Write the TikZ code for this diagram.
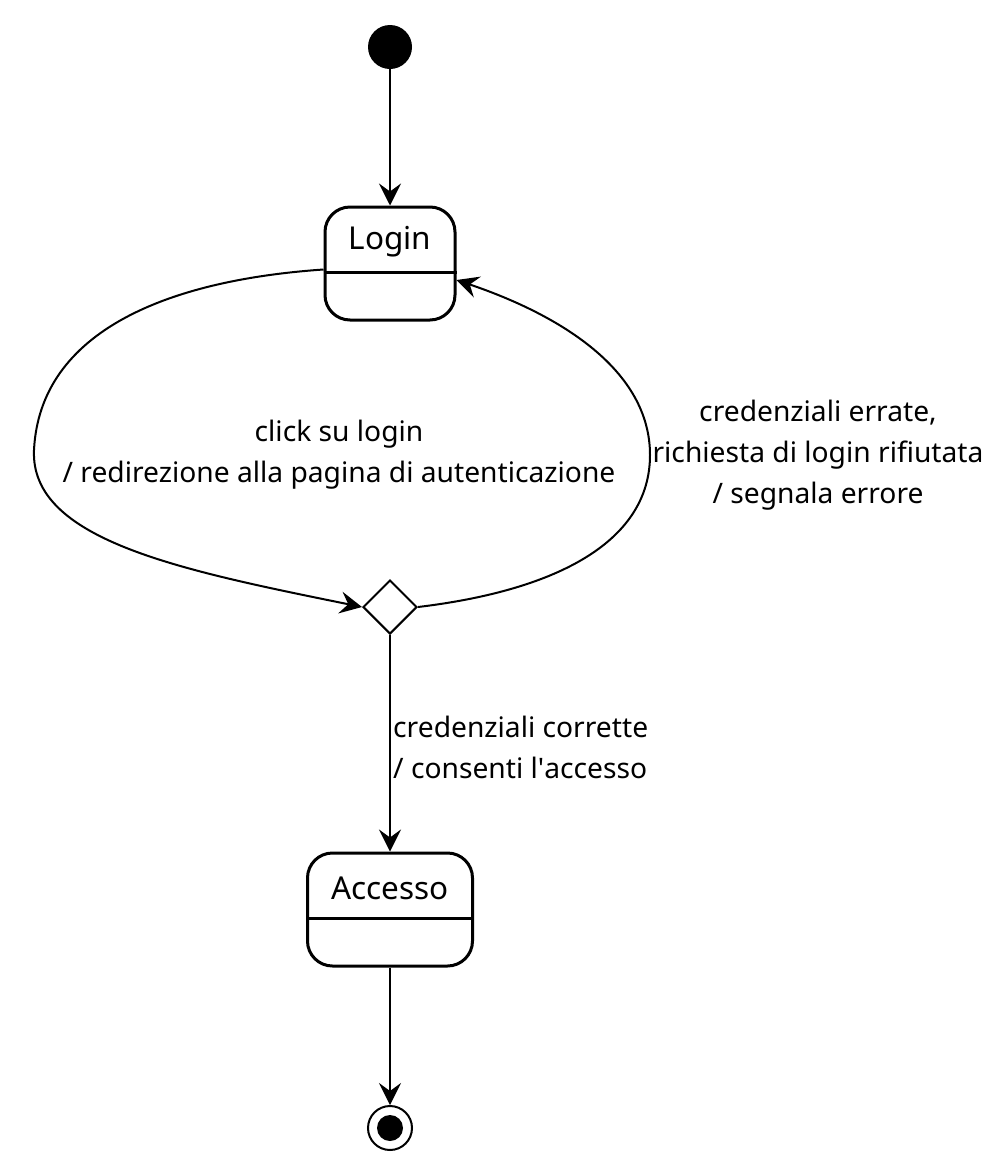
\documentclass[tikz,border=0pt]{standalone}
\usepackage{fontspec}
\setmainfont{Noto Sans}
\usetikzlibrary{arrows.meta,shapes.geometric,calc}
\begin{document}
\begin{tikzpicture}[x=1pt,y=-1pt,
  conn/.style={line width=2pt,-{Stealth[length=22pt,width=22pt,inset=8pt]}},
  statebox/.style={draw,line width=3pt,rounded corners=25pt,minimum height=113pt,inner sep=0pt},
  statename/.style={font=\fontsize{31.5}{40}\selectfont,inner sep=0pt},
  lbl/.style={font=\fontsize{28.2}{41}\selectfont,inner sep=0pt,align=center},
  choice/.style={draw,diamond,line width=2pt,minimum width=54pt,minimum height=54pt,inner sep=0pt},
]
\useasboundingbox (0,0) rectangle (1000,1160);
\node[circle,fill=black,minimum size=44pt,inner sep=0pt] (init) at (390,47) {};
\node[statebox,minimum width=130pt] (login) at (390,263.5) {};
\draw[line width=3pt] ([yshift=-8.5pt]login.west) -- ([yshift=-8.5pt]login.east);
\node[statename] (loginname) at (390,242) {Login};
\node[choice] (dec) at (390,607) {};
\node[statebox,minimum width=165pt] (acc) at (390,909.5) {};
\draw[line width=3pt] ([yshift=-8.5pt]acc.west) -- ([yshift=-8.5pt]acc.east);
\node[statename] (accname) at (390,888) {Accesso};
\node[circle,draw,line width=2pt,minimum size=44pt,inner sep=0pt,
  path picture={\fill (path picture bounding box.center) circle (13pt);}] (fin) at (390,1128) {};

\draw[conn] (init) -- (login);
\draw[conn] ([yshift=-6pt]login.west) .. controls (170,280) and (40,330) .. (34,450)
   .. controls (30,540) and (180,570) .. (dec.west);
\draw[conn] (dec.east) .. controls (560,590) and (650,540) .. (650,455)
   .. controls (650,370) and (560,315) .. ([yshift=-16.5pt]login.east);
\draw[conn] (dec) -- (acc);
\draw[conn] (acc) -- (fin);

\node[lbl] (l1) at (339,455) {click su login\\/ redirezione alla pagina di autenticazione};
\node[lbl] (l2) at (818,455) {credenziali errate,\\richiesta di login rifiutata\\/ segnala errore};
\node[lbl,align=left,anchor=west] (l3) at (393,747) {credenziali corrette\\/ consenti l\textquotesingle accesso};
\end{tikzpicture}
\end{document}
